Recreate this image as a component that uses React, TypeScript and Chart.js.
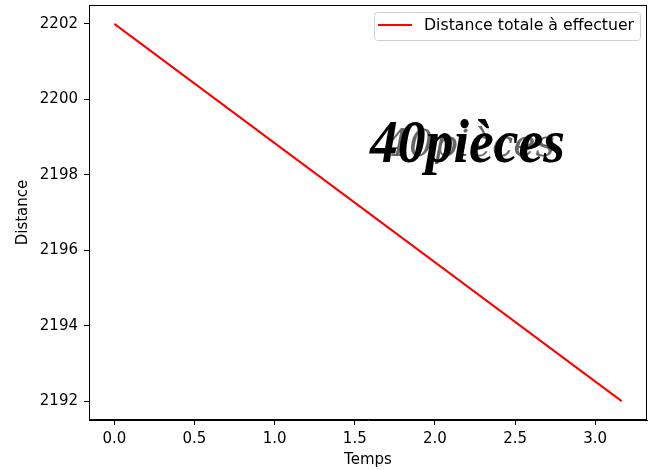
import React, { useEffect, useRef } from "react";
import { Chart, registerables } from "chart.js";

Chart.register(...registerables);

const seriesLabel = "Distance totale à effectuer";
const timeValues = [0, 3.165];
const distanceValues = [2202, 2192];
const yTickValues = [2192, 2194, 2196, 2198, 2200, 2202];
const xTickValues = [0, 0.5, 1, 1.5, 2, 2.5, 3];
const annotationText = "40pièces";
const xTitle = "Temps";
const yTitle = "Distance";

const FONT = "'DejaVu Sans', sans-serif";

const decorPlugin = {
  id: "decor",
  afterDraw(chart: any) {
    const ctx = chart.ctx as CanvasRenderingContext2D;
    const a = chart.chartArea;
    ctx.save();
    // frame
    ctx.strokeStyle = "#000";
    ctx.lineWidth = 1;
    ctx.strokeRect(a.left + 0.5, a.top + 0.5, a.right - a.left - 1, a.bottom - a.top - 1);

    // axis titles
    ctx.fillStyle = "#000";
    ctx.font = "15px " + FONT;
    ctx.textAlign = "center";
    ctx.textBaseline = "middle";
    ctx.fillText(xTitle, (a.left + a.right) / 2, 460);
    ctx.save();
    ctx.translate(23, (a.top + a.bottom) / 2);
    ctx.rotate(-Math.PI / 2);
    ctx.fillText(yTitle, 0, 0);
    ctx.restore();

    // annotation text (ghost + bold)
    ctx.textBaseline = "alphabetic";
    ctx.textAlign = "left";
    ctx.fillStyle = "rgba(0,0,0,0.6)";
    ctx.font = "italic 38px 'DejaVu Serif', serif";
    let w = ctx.measureText(annotationText).width;
    ctx.save();
    ctx.translate(385, 156);
    ctx.scale(170 / w, 1);
    ctx.fillText(annotationText, 0, 0);
    ctx.restore();

    ctx.fillStyle = "#000";
    ctx.font = "italic bold 62px 'Liberation Serif', serif";
    w = ctx.measureText(annotationText).width;
    ctx.save();
    ctx.translate(370, 162);
    ctx.scale(195 / w, 1);
    ctx.fillText(annotationText, 0, 0);
    ctx.restore();

    // legend
    const lx = 374, ly = 12, lw = 266, lh = 28;
    ctx.fillStyle = "rgba(255,255,255,0.8)";
    ctx.strokeStyle = "#d0d0d0";
    ctx.lineWidth = 1;
    ctx.beginPath();
    const r = 3;
    ctx.moveTo(lx + r + 0.5, ly + 0.5);
    ctx.arcTo(lx + lw + 0.5, ly + 0.5, lx + lw + 0.5, ly + lh + 0.5, r);
    ctx.arcTo(lx + lw + 0.5, ly + lh + 0.5, lx + 0.5, ly + lh + 0.5, r);
    ctx.arcTo(lx + 0.5, ly + lh + 0.5, lx + 0.5, ly + 0.5, r);
    ctx.arcTo(lx + 0.5, ly + 0.5, lx + lw + 0.5, ly + 0.5, r);
    ctx.closePath();
    ctx.fill();
    ctx.stroke();
    ctx.strokeStyle = "#ff0000";
    ctx.lineWidth = 2;
    ctx.beginPath();
    ctx.moveTo(378, 25);
    ctx.lineTo(412, 25);
    ctx.stroke();
    ctx.fillStyle = "#000";
    ctx.font = "15px " + FONT;
    const label = chart.data.datasets[0].label;
    const tw = ctx.measureText(label).width;
    const fs = 15 * 210 / tw;
    ctx.font = fs.toFixed(2) + "px " + FONT;
    ctx.textBaseline = "middle";
    ctx.fillText(label, 424, 26);
    ctx.restore();
  },
};

export default function App() {
  const ref = useRef<HTMLCanvasElement | null>(null);
  useEffect(() => {
    if (!ref.current) return;
    const chart = new Chart(ref.current, {
      type: "scatter",
      data: {
        datasets: [
          {
            label: seriesLabel,
            data: timeValues.map((t, i) => ({ x: t, y: distanceValues[i] })),
            showLine: true,
            borderColor: "#ff0000",
            borderWidth: 2,
            pointRadius: 0,
            fill: false,
          },
        ],
      },
      options: {
        animation: false,
        responsive: false,
        maintainAspectRatio: false,
        layout: { padding: { left: 0, top: 5, right: 1, bottom: 0 } },
        plugins: { legend: { display: false }, tooltip: { enabled: false } },
        scales: {
          x: {
            type: "linear",
            min: -0.158,
            max: 3.323,
            afterBuildTicks: (s: any) => {
              s.ticks = xTickValues.map((v) => ({ value: v }));
            },
            afterFit: (s: any) => {
              s.height = 50;
              s.paddingLeft = 0;
              s.paddingRight = 0;
            },
            grid: { drawOnChartArea: false, drawTicks: true, tickLength: 5, color: "#000" },
            border: { display: true, color: "#000", width: 1 },
            ticks: {
              color: "#000",
              font: { family: FONT, size: 15 },
              padding: 5,
              maxRotation: 0,
              callback: (v: any) => Number(v).toFixed(1),
            },
          },
          y: {
            type: "linear",
            min: 2191.5,
            max: 2202.5,
            afterBuildTicks: (s: any) => {
              s.ticks = yTickValues.map((v) => ({ value: v }));
            },
            afterFit: (s: any) => {
              s.width = 89;
              s.paddingTop = 0;
              s.paddingBottom = 0;
            },
            grid: { drawOnChartArea: false, drawTicks: true, tickLength: 5, color: "#000" },
            border: { display: true, color: "#000", width: 1 },
            ticks: {
              color: "#000",
              font: { family: FONT, size: 15 },
              padding: 6,
              callback: (v: any) => String(v),
            },
          },
        },
      },
      plugins: [decorPlugin],
    });
    return () => chart.destroy();
  }, []);
  return (
    <div style={{ position: "absolute", left: 0, top: 0, width: 648, height: 470, background: "#fff" }}>
      <canvas ref={ref} width={648} height={470} style={{ width: 648, height: 470 }} />
    </div>
  );
}
